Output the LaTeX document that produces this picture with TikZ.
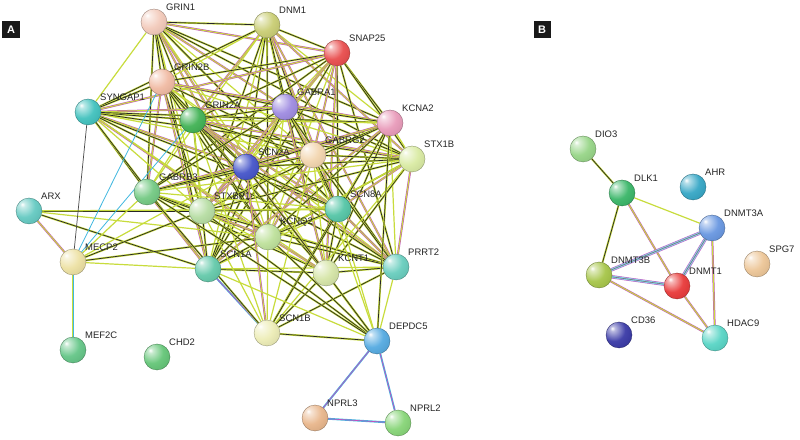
\documentclass[tikz,border=0pt]{standalone}
\usepackage{fontspec}
\setmainfont{Liberation Sans}
\usetikzlibrary{backgrounds}
\pgfdeclarelayer{bgfill}
\pgfsetlayers{bgfill,background,main}
\makeatletter
\pgfdeclareradialshading[tikz@ball]{sball}{\pgfqpoint{-13bp}{13bp}}{%
  color(0bp)=(white);
  color(5bp)=(tikz@ball!35!white);
  color(22bp)=(tikz@ball!92!white);
  color(44bp)=(tikz@ball!90!black);
  color(58bp)=(tikz@ball!62!black);
  color(100bp)=(tikz@ball!50!black)}
\makeatother
\definecolor{eyel}{HTML}{C8DC3C}
\definecolor{emag}{HTML}{C050C0}
\definecolor{ecya}{HTML}{40B8E0}
\definecolor{cGRINa}{HTML}{F2C8B8}
\definecolor{cDNMa}{HTML}{C8CC70}
\definecolor{cSNAP}{HTML}{E84848}
\definecolor{cGRINb}{HTML}{F0B8A0}
\definecolor{cSYNG}{HTML}{3CC0BC}
\definecolor{cGRINc}{HTML}{3CB050}
\definecolor{cGABA}{HTML}{9C88E0}
\definecolor{cKCNA}{HTML}{E898B8}
\definecolor{cGABG}{HTML}{F2D4AC}
\definecolor{cSTXB}{HTML}{D8EAA0}
\definecolor{cSCNb}{HTML}{4050C8}
\definecolor{cGABB}{HTML}{70C880}
\definecolor{cSTXP}{HTML}{B4DCA0}
\definecolor{cSCNh}{HTML}{50C4A4}
\definecolor{cARX}{HTML}{60C8C0}
\definecolor{cMECP}{HTML}{ECE0A0}
\definecolor{cKCNQ}{HTML}{BCE098}
\definecolor{cSCNa}{HTML}{60C8A8}
\definecolor{cKCNT}{HTML}{D4E4A4}
\definecolor{cPRRT}{HTML}{64CCBC}
\definecolor{cSCNx}{HTML}{ECECB4}
\definecolor{cDEPD}{HTML}{50A8E0}
\definecolor{cMEFC}{HTML}{60C484}
\definecolor{cCHD}{HTML}{60C474}
\definecolor{cNPRc}{HTML}{E8B488}
\definecolor{cNPRb}{HTML}{84D474}
\definecolor{cDIO}{HTML}{94D484}
\definecolor{cDLK}{HTML}{34B464}
\definecolor{cAHR}{HTML}{30A4C4}
\definecolor{cDNTa}{HTML}{6494E0}
\definecolor{cSPG}{HTML}{ECC494}
\definecolor{cDNTb}{HTML}{A4C444}
\definecolor{cDNTo}{HTML}{E83434}
\definecolor{cCD}{HTML}{3434A4}
\definecolor{cHDAC}{HTML}{54D4C4}
\newcommand\protnode[4]{%
  \node[prot, ball color=#4, shading=sball, draw=#4!60!black] (#1) at (#2,#3) {};
  \node[lbl] (#1-l) at ([shift={(11,-10)}]#1.center) {#1};}
\begin{document}
\begin{tikzpicture}[x=1bp,y=-1bp,
  prot/.style={circle, minimum size=26bp, inner sep=0pt, line width=0.3bp},
  lbl/.style={font=\fontsize{9.5}{10}\selectfont, text=black!85, inner sep=1bp, anchor=south west},
  panel/.style={fill=black!90, text=white, font=\bfseries\fontsize{11}{12}\selectfont, minimum size=17bp, inner sep=0pt},
  ea/.style={draw=emag, double=eyel, line width=0.5bp, double distance=1bp},
  eb/.style={draw=eyel, double=black!85, line width=0.6bp, double distance=0.7bp},
  ec/.style={draw=eyel, line width=1.2bp},
  ed/.style={draw=black!70, line width=0.7bp},
  ecy/.style={draw=ecya, double=emag, line width=0.6bp, double distance=0.7bp},
  ecyy/.style={draw=eyel, double=ecya, line width=0.6bp, double distance=0.8bp},
  bund/.style={preaction={draw=emag, line width=3.4bp}, draw=ecya!60, double=black!55, line width=0.9bp, double distance=0.6bp}]
\useasboundingbox (0,0) rectangle (800,440);
\begin{pgfonlayer}{bgfill}
\fill[white] (0,0) rectangle (800,440);
\end{pgfonlayer}
\node[panel] (A) at (11,30) {A};
\node[panel] (B) at (542,30) {B};
% panel A
\protnode{GRIN1}{154}{22}{cGRINa}
\protnode{DNM1}{267}{25}{cDNMa}
\protnode{SNAP25}{337}{53}{cSNAP}
\protnode{GRIN2B}{162}{82}{cGRINb}
\protnode{SYNGAP1}{88}{112}{cSYNG}
\protnode{GRIN2A}{193}{120}{cGRINc}
\protnode{GABRA1}{285}{107}{cGABA}
\protnode{KCNA2}{390}{123}{cKCNA}
\protnode{GABRG2}{313}{155}{cGABG}
\protnode{STX1B}{412}{159}{cSTXB}
\protnode{SCN2A}{246}{167}{cSCNb}
\protnode{GABRB3}{147}{192}{cGABB}
\protnode{STXBP1}{202}{211}{cSTXP}
\protnode{SCN8A}{338}{209}{cSCNh}
\protnode{ARX}{29}{211}{cARX}
\protnode{MECP2}{73}{262}{cMECP}
\protnode{KCNQ2}{268}{237}{cKCNQ}
\protnode{SCN1A}{208}{269}{cSCNa}
\protnode{KCNT1}{326}{273}{cKCNT}
\protnode{PRRT2}{396}{267}{cPRRT}
\protnode{SCN1B}{267}{333}{cSCNx}
\protnode{DEPDC5}{377}{341}{cDEPD}
\protnode{MEF2C}{73}{350}{cMEFC}
\protnode{CHD2}{157}{357}{cCHD}
\protnode{NPRL3}{315}{418}{cNPRc}
\protnode{NPRL2}{398}{423}{cNPRb}
% panel B
\protnode{DIO3}{583}{149}{cDIO}
\protnode{DLK1}{622}{193}{cDLK}
\protnode{AHR}{693}{187}{cAHR}
\protnode{DNMT3A}{712}{228}{cDNTa}
\protnode{SPG7}{757}{264}{cSPG}
\protnode{DNMT3B}{599}{275}{cDNTb}
\protnode{DNMT1}{677}{286}{cDNTo}
\protnode{CD36}{619}{335}{cCD}
\protnode{HDAC9}{715}{338}{cHDAC}
\begin{pgfonlayer}{background}
\def\corelist{GRIN1,DNM1,SNAP25,GRIN2B,SYNGAP1,GRIN2A,GABRA1,KCNA2,GABRG2,STX1B,SCN2A,GABRB3,STXBP1,SCN8A,KCNQ2,SCN1A,KCNT1,PRRT2}
\foreach \a [count=\i] in \corelist {
  \foreach \b [count=\j] in \corelist {
    \ifnum\j>\i
      \pgfmathtruncatemacro\t{mod(\i*7+\j*3,4)}
      \ifcase\t
        \draw[ea] (\a) -- (\b);
      \or
        \draw[eb] (\a) -- (\b);
      \or
        \draw[ec] (\a) -- (\b);
      \else
        \draw[eb] (\a) -- (\b);
      \fi
    \fi
  }
}
% ARX
\draw[ea] (ARX) -- (MECP2);
\draw[eb] (ARX) -- (STXBP1);
\draw[ec] (ARX) -- (SCN8A);
\draw[eb] (ARX) -- (SCN1A);
\draw[ec] (ARX) -- (KCNQ2);
% MECP2
\draw[ecyy] (MECP2) -- (MEF2C);
\draw[ed] (MECP2) -- (SYNGAP1);
\draw[draw=ecya, line width=0.8bp] (MECP2) -- (GRIN2B);
\draw[draw=ecya, line width=0.8bp] (MECP2) -- (GRIN2A);
\draw[ec] (MECP2) -- (GABRB3);
\draw[eb] (MECP2) -- (STXBP1);
\draw[ec] (MECP2) -- (SCN1A);
\draw[eb] (MECP2) -- (KCNQ2);
\draw[ec] (MECP2) -- (SCN2A);
% SCN1B
\foreach \b/\s in {SCN1A/ecy,SCN2A/ea,SCN8A/eb,KCNQ2/ec,KCNT1/eb,STXBP1/ec,GABRB3/eb,PRRT2/eb,GABRG2/ec,GRIN2A/ec,STX1B/ec,KCNA2/eb}{
  \draw[\s] (SCN1B) -- (\b);}
% DEPDC5
\foreach \b/\s in {SCN2A/eb,STXBP1/eb,SCN1A/ec,KCNQ2/eb,KCNT1/eb,SCN8A/ec,PRRT2/ec,GABRB3/eb,GABRG2/ec,KCNA2/eb,SCN1B/eb}{
  \draw[\s] (DEPDC5) -- (\b);}
\draw[ecy] (DEPDC5) -- (NPRL3);
\draw[ecy] (DEPDC5) -- (NPRL2);
\draw[ecy] (NPRL3) -- (NPRL2);
% panel B
\draw[eb] (DIO3) -- (DLK1);
\draw[ec] (DLK1) -- (DNMT3A);
\draw[eb] (DLK1) -- (DNMT3B);
\draw[ea] (DLK1) -- (DNMT1);
\draw[bund] (DNMT3B) -- (DNMT3A);
\draw[bund] (DNMT3B) -- (DNMT1);
\draw[ea] (DNMT3B) -- (HDAC9);
\draw[bund] (DNMT3A) -- (DNMT1);
\draw[ea] (DNMT3A) -- (HDAC9);
\draw[ea] (DNMT1) -- (HDAC9);
\end{pgfonlayer}
\end{tikzpicture}
\end{document}
